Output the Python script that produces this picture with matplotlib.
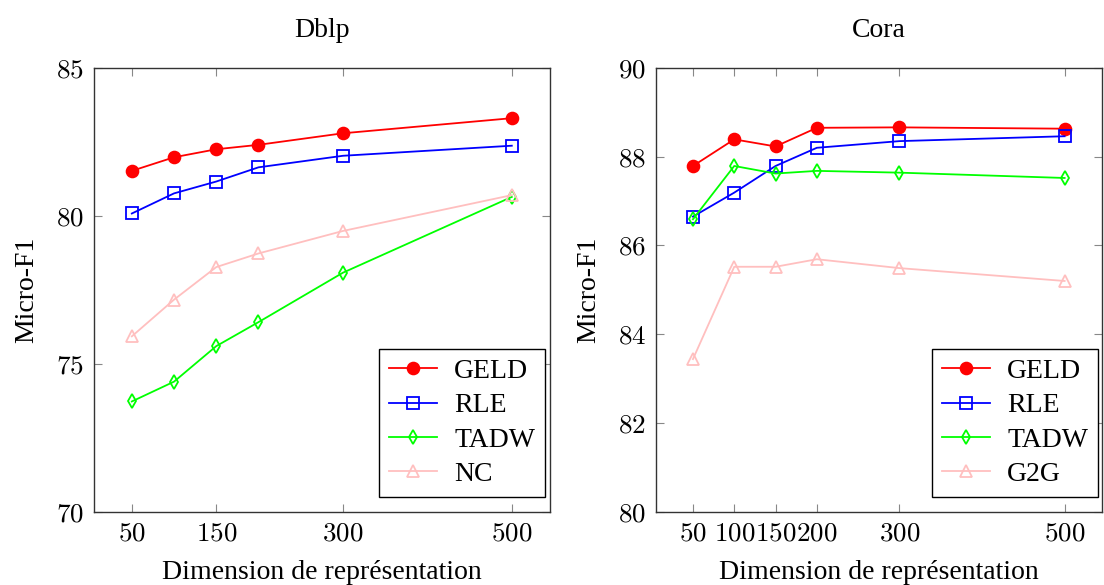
import matplotlib.pyplot as plt

plt.rcParams["font.family"] = ["Liberation Serif", "DejaVu Serif"]
plt.rcParams["mathtext.fontset"] = "cm"

# Dblp
dblp_x = [50, 100, 150, 200, 300, 500]
dblp_geld = [81.52, 81.98, 82.25, 82.40, 82.79, 83.30]
dblp_rle = [80.08, 80.76, 81.16, 81.64, 82.03, 82.37]
dblp_tadw = [73.73, 74.40, 75.60, 76.41, 78.08, 80.64]
dblp_nc = [75.93, 77.17, 78.27, 78.73, 79.49, 80.70]
dblp_xticks = [50, 150, 300, 500]
dblp_yticks = [70, 75, 80, 85]

# Cora
cora_x = [50, 100, 150, 200, 300, 500]
cora_geld = [87.79, 88.39, 88.23, 88.65, 88.66, 88.63]
cora_rle = [86.65, 87.19, 87.79, 88.20, 88.35, 88.46]
cora_tadw = [86.59, 87.79, 87.62, 87.68, 87.64, 87.52]
cora_g2g = [83.44, 85.52, 85.52, 85.69, 85.49, 85.20]
cora_xticks = [50, 100, 150, 200, 300, 500]
cora_yticks = [80, 82, 84, 86, 88, 90]

pink = "#ffbfbf"
styles = [
    dict(color="red", marker="o", markersize=8.5, markerfacecolor="red"),
    dict(color="blue", marker="s", markersize=9, markerfacecolor="none"),
    dict(color="#00ff00", marker="d", markersize=7.5, markerfacecolor="none"),
    dict(color=pink, marker="^", markersize=8.5, markerfacecolor="none"),
]

fig = plt.figure(figsize=(11.04, 5.85), dpi=100)
ax1 = fig.add_axes([0.085, 0.125, 0.413, 0.759])
ax2 = fig.add_axes([0.594, 0.125, 0.404, 0.759])


def draw(ax, x, series, names, title, xticks, yticks, ylim, anchor):
    for ys, name, st in zip(series, names, styles):
        ax.plot(x, ys, label=name, linewidth=1.3, markeredgewidth=1.3, **st)
    ax.set_xlim(5, 545)
    ax.set_ylim(*ylim)
    ax.set_xticks(xticks)
    ax.set_xticklabels([f"${t}$" for t in xticks])
    ax.set_yticks(yticks)
    ax.set_yticklabels([f"${t}$" for t in yticks])
    ax.tick_params(direction="in", length=6, width=0.8, color="#888888",
                   top=True, right=True, labelsize=19.5, pad=7)
    for s in ax.spines.values():
        s.set_color("#333333")
        s.set_linewidth(1.0)
    ax.set_title(title, fontsize=20, pad=22)
    ax.set_xlabel("Dimension de représentation", fontsize=20, labelpad=10)
    ax.set_ylabel("Micro-F1", fontsize=20, labelpad=12)
    leg = ax.legend(loc="lower right", bbox_to_anchor=anchor, borderaxespad=0,
                    fontsize=20, fancybox=False, framealpha=1,
                    edgecolor="black", borderpad=0.35, handlelength=1.75,
                    labelspacing=0.32, handletextpad=0.6)
    leg.get_frame().set_linewidth(1.0)


draw(ax1, dblp_x, [dblp_geld, dblp_rle, dblp_tadw, dblp_nc],
     ["GELD", "RLE", "TADW", "NC"], "Dblp", dblp_xticks, dblp_yticks, (70, 85),
     (0.989, 0.034))
draw(ax2, cora_x, [cora_geld, cora_rle, cora_tadw, cora_g2g],
     ["GELD", "RLE", "TADW", "G2G"], "Cora", cora_xticks, cora_yticks, (80, 90),
     (0.991, 0.034))

fig.savefig("out.png", dpi=100)
